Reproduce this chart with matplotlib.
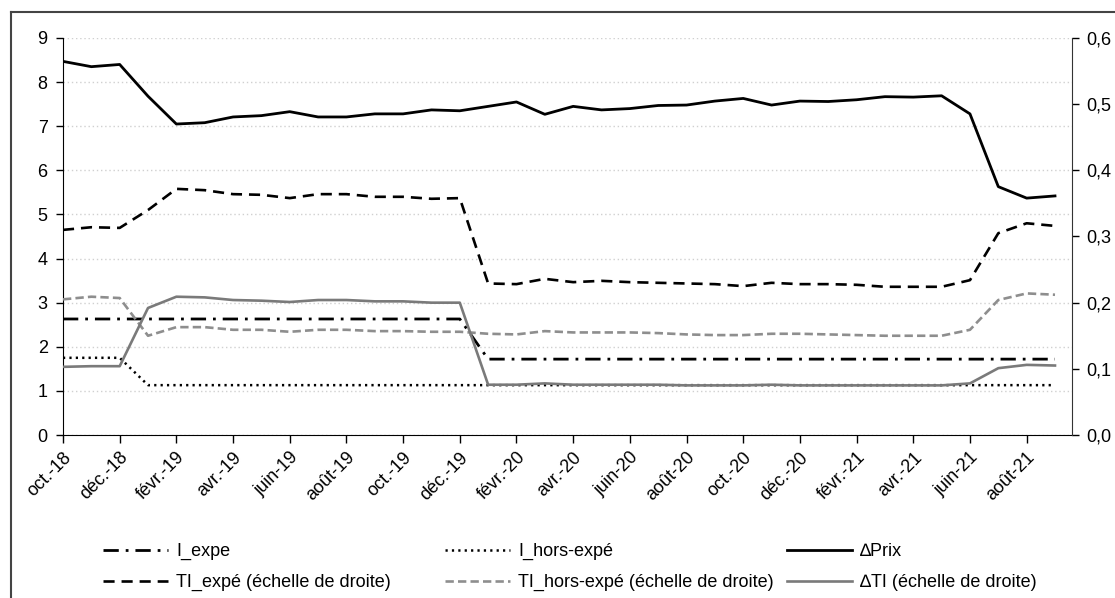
import matplotlib
matplotlib.use("Agg")
import matplotlib.pyplot as plt
from matplotlib.lines import Line2D
from matplotlib.ticker import FuncFormatter

plt.rcParams['font.family'] = ['Liberation Sans Narrow', 'Liberation Sans', 'DejaVu Sans']
plt.rcParams['lines.scale_dashes'] = False

# mois d'oct.-18 a sept.-21
mois = ["oct.-18", "nov.-18", "déc.-18", "janv.-19", "févr.-19", "mars-19",
        "avr.-19", "mai-19", "juin-19", "juil.-19", "août-19", "sept.-19",
        "oct.-19", "nov.-19", "déc.-19", "janv.-20", "févr.-20", "mars-20",
        "avr.-20", "mai-20", "juin-20", "juil.-20", "août-20", "sept.-20",
        "oct.-20", "nov.-20", "déc.-20", "janv.-21", "févr.-21", "mars-21",
        "avr.-21", "mai-21", "juin-21", "juil.-21", "août-21", "sept.-21"]

# echelle de gauche
I_expe = [2.63, 2.63, 2.63, 2.63, 2.63, 2.63, 2.63, 2.63, 2.63, 2.63, 2.63, 2.63,
          2.63, 2.63, 2.63, 1.72, 1.72, 1.72, 1.72, 1.72, 1.72, 1.72, 1.72, 1.72,
          1.72, 1.72, 1.72, 1.72, 1.72, 1.72, 1.72, 1.72, 1.72, 1.72, 1.72, 1.72]
I_hors = [1.75, 1.75, 1.75, 1.13, 1.13, 1.13, 1.13, 1.13, 1.13, 1.13, 1.13, 1.13,
          1.13, 1.13, 1.13, 1.13, 1.13, 1.13, 1.13, 1.13, 1.13, 1.13, 1.13, 1.13,
          1.13, 1.13, 1.13, 1.13, 1.13, 1.13, 1.13, 1.13, 1.13, 1.13, 1.13, 1.13]
dPrix = [8.47, 8.35, 8.40, 7.68, 7.05, 7.08, 7.21, 7.24, 7.33, 7.21, 7.21, 7.28,
         7.28, 7.37, 7.35, 7.45, 7.55, 7.27, 7.45, 7.37, 7.40, 7.47, 7.48, 7.57,
         7.63, 7.48, 7.57, 7.56, 7.60, 7.67, 7.66, 7.69, 7.28, 5.63, 5.37, 5.42]

# echelle de droite
TI_expe = [0.310, 0.314, 0.313, 0.340, 0.372, 0.370, 0.364, 0.363, 0.358, 0.364, 0.364, 0.360,
           0.360, 0.357, 0.358, 0.229, 0.228, 0.236, 0.231, 0.233, 0.231, 0.230, 0.229, 0.228,
           0.225, 0.230, 0.228, 0.228, 0.227, 0.224, 0.224, 0.224, 0.234, 0.305, 0.320, 0.316]
TI_hors = [0.205, 0.209, 0.207, 0.150, 0.163, 0.163, 0.159, 0.159, 0.156, 0.159, 0.159, 0.157,
           0.157, 0.156, 0.156, 0.153, 0.152, 0.157, 0.155, 0.155, 0.155, 0.154, 0.152, 0.151,
           0.151, 0.153, 0.153, 0.152, 0.151, 0.150, 0.150, 0.150, 0.159, 0.204, 0.214, 0.212]
dTI = [0.103, 0.104, 0.104, 0.192, 0.209, 0.208, 0.204, 0.203, 0.201, 0.204, 0.204, 0.202,
       0.202, 0.200, 0.200, 0.076, 0.076, 0.078, 0.076, 0.076, 0.076, 0.076, 0.075, 0.075,
       0.075, 0.076, 0.075, 0.075, 0.075, 0.075, 0.075, 0.075, 0.078, 0.101, 0.106, 0.105]

x = list(range(len(mois)))

fig = plt.figure(figsize=(11.15, 5.98), dpi=100)
ax = fig.add_axes([63/1115, 1-435/598, (1072-63)/1115, (435-38)/598])
ax2 = ax.twinx()

gris = '#7a7a7a'
gris2 = '#8e8e8e'

l1, = ax.plot(x, I_expe, color='black', lw=2.0, dashes=(11, 5, 2, 5), dash_capstyle='butt')
l2, = ax.plot(x, I_hors, color='black', lw=1.8, dashes=(1.6, 3.0), dash_capstyle='butt')
l3, = ax.plot(x, dPrix, color='black', lw=2.0)
l4, = ax2.plot(x, TI_expe, color='black', lw=1.9, dashes=(8, 5), dash_capstyle='butt')
l5, = ax2.plot(x, TI_hors, color=gris2, lw=1.9, dashes=(6, 3), dash_capstyle='butt')
l6, = ax2.plot(x, dTI, color=gris, lw=1.9)

ax.set_xlim(0, 35.6)
ax.set_ylim(0, 9)
ax.set_yticks(range(0, 10))
ax2.set_ylim(0, 0.6)
ax2.set_yticks([0, 0.1, 0.2, 0.3, 0.4, 0.5, 0.6])
ax2.yaxis.set_major_formatter(FuncFormatter(lambda v, p: ('%.1f' % v).replace('.', ',')))

ax.set_xticks(x[::2])
ax.set_xticklabels(mois[::2], rotation=45, ha='right', rotation_mode='anchor')

ax.grid(axis='y', color='#d0d0d0', linestyle=(0, (1, 2)), lw=1.0)
ax.set_axisbelow(True)

for a in (ax, ax2):
    a.spines['top'].set_visible(False)
    a.tick_params(labelsize=13, length=5, width=1, pad=6)
ax.spines['right'].set_visible(False)
ax2.spines['left'].set_visible(False)
ax2.spines['bottom'].set_visible(False)
ax2.spines['right'].set_color('#333333')
ax2.tick_params(pad=5)
ax.tick_params(axis='x', length=6, pad=4)

# legende en trois colonnes fixes
cols = [([l1, l4], ["I_expe", "TI_expé (échelle de droite)"], 103),
        ([l2, l5], ["I_hors-expé", "TI_hors-expé (échelle de droite)"], 445),
        ([l3, l6], ["\u2206Prix", "\u2206TI (échelle de droite)"], 787)]
for h, lab, px in cols:
    fig.legend(h, lab, loc='upper left', bbox_to_anchor=(px/1115, 1-543/598),
               frameon=False, fontsize=13, handlelength=3.6, handletextpad=0.45,
               borderpad=0, borderaxespad=0, labelspacing=0.78)

# cadre du graphique
fig.add_artist(Line2D([11/1115, 1], [1-12/598, 1-12/598], color='#444444', lw=1.5))
fig.add_artist(Line2D([11/1115, 11/1115], [0, 1-12/598], color='#444444', lw=1.5))

fig.savefig('out.png', dpi=100)
